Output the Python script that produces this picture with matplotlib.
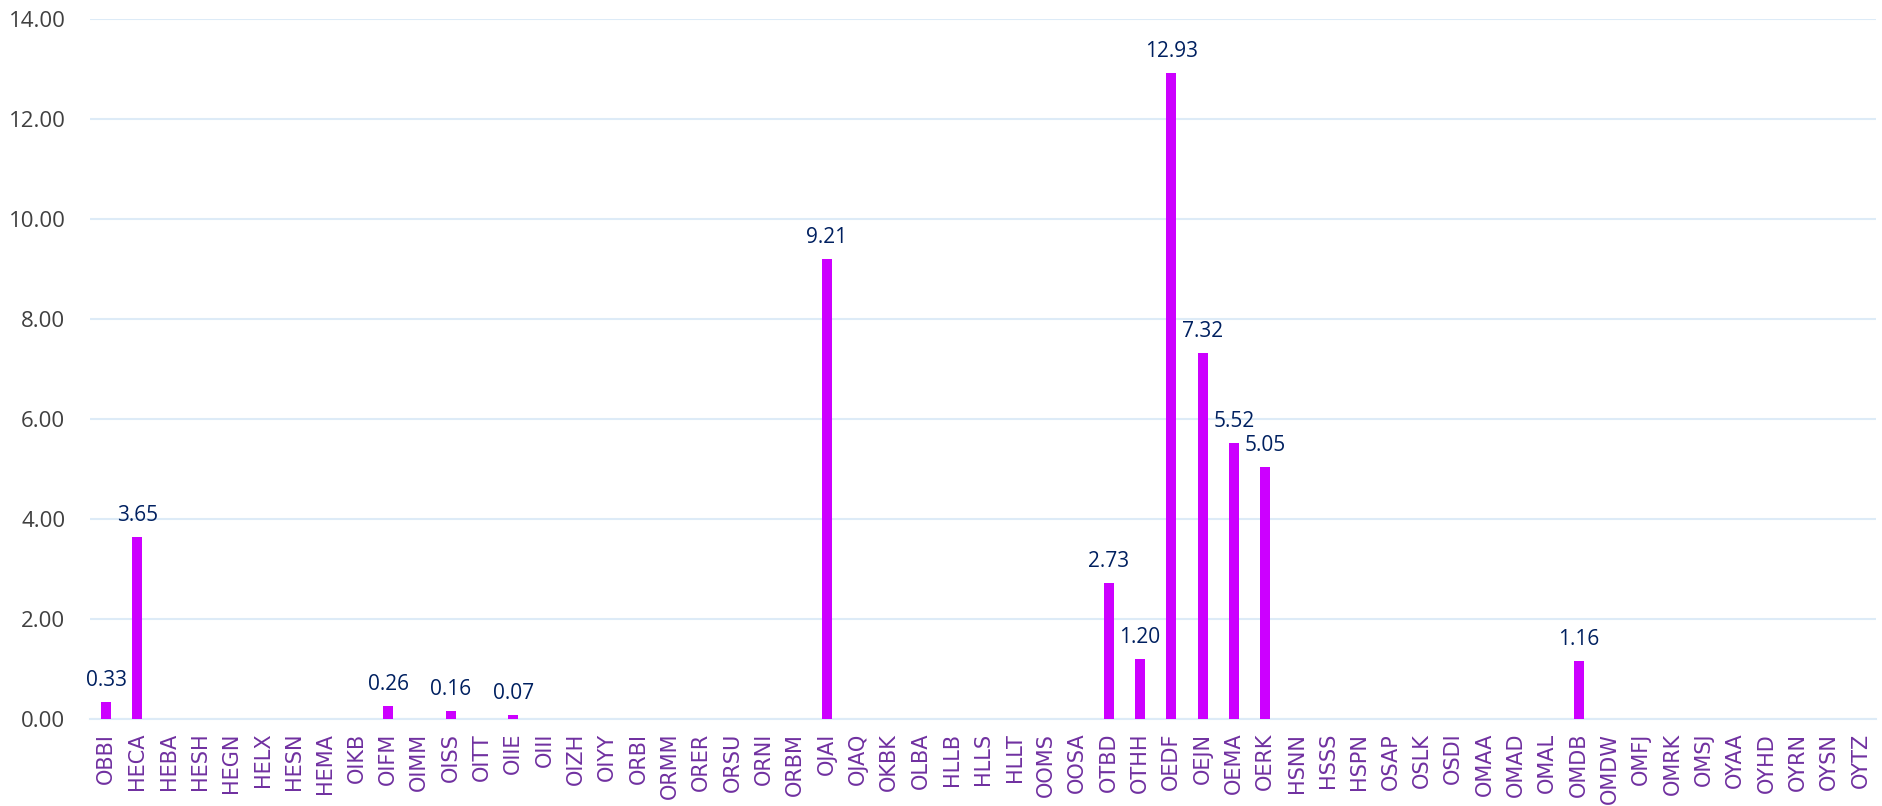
import matplotlib
matplotlib.use("Agg")
import matplotlib.pyplot as plt
import numpy as np

# airport codes along the x axis
codes = ["OBBI", "HECA", "HEBA", "HESH", "HEGN", "HELX", "HESN", "HEMA", "OIKB",
         "OIFM", "OIMM", "OISS", "OITT", "OIIE", "OIII", "OIZH", "OIYY", "ORBI",
         "ORMM", "ORER", "ORSU", "ORNI", "ORBM", "OJAI", "OJAQ", "OKBK", "OLBA",
         "HLLB", "HLLS", "HLLT", "OOMS", "OOSA", "OTBD", "OTHH", "OEDF", "OEJN",
         "OEMA", "OERK", "HSNN", "HSSS", "HSPN", "OSAP", "OSLK", "OSDI", "OMAA",
         "OMAD", "OMAL", "OMDB", "OMDW", "OMFJ", "OMRK", "OMSJ", "OYAA", "OYHD",
         "OYRN", "OYSN", "OYTZ"]

# values (0 means no bar / no label)
values = [0.33, 3.65, 0, 0, 0, 0, 0, 0, 0,
          0.26, 0, 0.16, 0, 0.07, 0, 0, 0, 0,
          0, 0, 0, 0, 0, 9.21, 0, 0, 0,
          0, 0, 0, 0, 0, 2.73, 1.20, 12.93, 7.32,
          5.52, 5.05, 0, 0, 0, 0, 0, 0, 0,
          0, 0, 1.16, 0, 0, 0, 0, 0, 0,
          0, 0, 0]

yticks = [0, 2, 4, 6, 8, 10, 12, 14]

fig = plt.figure(figsize=(18.82, 8.06), dpi=100)
ax = fig.add_axes([0.048, 0.108, 0.949, 0.868])

x = np.arange(len(codes))
bars = ax.bar(x, values, width=0.32, color="#CC00FF", zorder=3)

for xi, v in zip(x, values):
    if v > 0:
        ax.text(xi, v + 0.22, f"{v:.2f}", ha="center", va="bottom",
                fontsize=15, color="#002060", family="Open Sans")

ax.set_xlim(-0.5, len(codes) - 0.5)
ax.set_ylim(0, 14)
ax.set_yticks(yticks)
ax.set_yticklabels([f"{t:.2f}" for t in yticks], fontsize=16,
                   color="#404040", family="Open Sans")
ax.set_xticks(x)
ax.set_xticklabels(codes, rotation=90, fontsize=15, color="#7030A0")

ax.yaxis.grid(True, color="#DDEBF7", linewidth=1.5, zorder=0)
ax.tick_params(axis="both", length=0)
ax.tick_params(axis="y", pad=18)
ax.tick_params(axis="x", pad=10)
for side in ["top", "right", "left"]:
    ax.spines[side].set_visible(False)
ax.spines["bottom"].set_color("#DDEBF7")
ax.spines["bottom"].set_linewidth(1.5)

fig.savefig("out.png", dpi=100)
